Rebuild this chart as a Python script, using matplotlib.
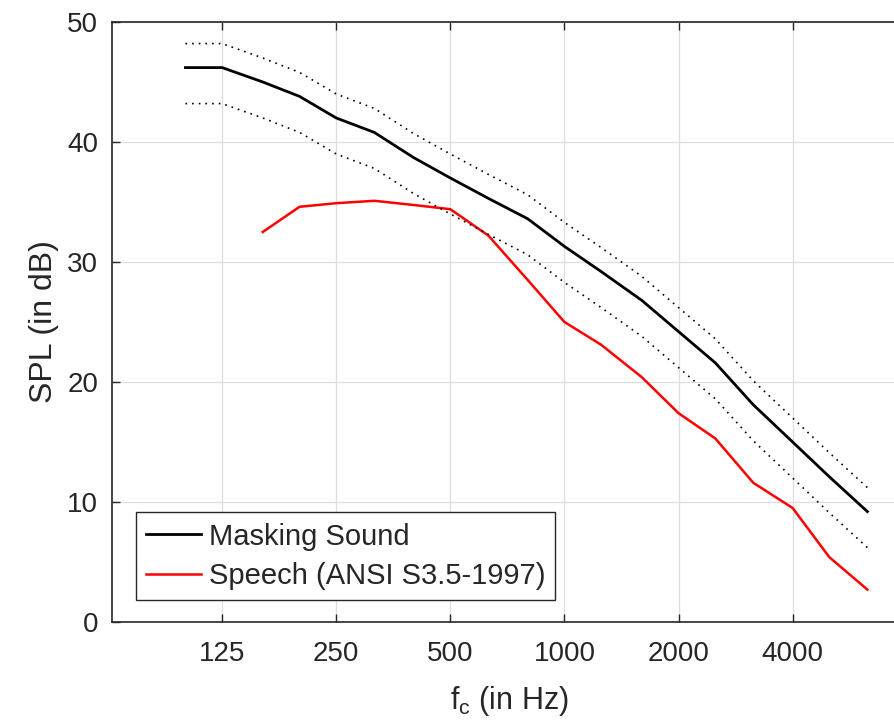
import numpy as np
import matplotlib
matplotlib.use('Agg')
import matplotlib.pyplot as plt

plt.rcParams['font.family'] = ['Liberation Sans', 'DejaVu Sans']
plt.rcParams['mathtext.default'] = 'regular'

# third-octave centre frequencies
freq = [100, 125, 160, 200, 250, 315, 400, 500, 630, 800, 1000, 1250,
        1600, 2000, 2500, 3150, 4000, 5000, 6300]
masking = [46.2, 46.2, 45.0, 43.8, 42.0, 40.8, 38.7, 37.0, 35.3, 33.6, 31.3,
           29.2, 26.8, 24.2, 21.6, 18.1, 15.0, 12.1, 9.2]
mask_upper = [48.2, 48.2, 47.0, 45.8, 44.0, 42.8, 40.7, 39.0, 37.3, 35.6, 33.3,
              31.2, 28.8, 26.2, 23.6, 20.1, 17.0, 14.1, 11.2]
mask_lower = [43.2, 43.2, 42.0, 40.8, 39.0, 37.8, 35.7, 34.0, 32.3, 30.6, 28.3,
              26.2, 23.8, 21.2, 18.6, 15.1, 12.0, 9.1, 6.2]
freq_speech = [160, 200, 250, 315, 400, 500, 630, 800, 1000, 1250, 1600, 2000,
               2500, 3150, 4000, 5000, 6300]
speech = [32.5, 34.6, 34.9, 35.1, 34.75, 34.4, 32.2, 28.5, 25.0, 23.1, 20.4,
          17.4, 15.3, 11.6, 9.5, 5.4, 2.7]

xticks = [125, 250, 500, 1000, 2000, 4000]
yticks = [0, 10, 20, 30, 40, 50]

fig = plt.figure(figsize=(8.95, 7.28), dpi=100)
ax = fig.add_axes([0.1251, 0.1456, 0.888, 0.8242])

axc = '#262626'
ax.plot(freq, masking, color='black', lw=2.0, label='Masking Sound')
ax.plot(freq_speech, speech, color='red', lw=1.8, label='Speech (ANSI S3.5-1997)')
ax.plot(freq, mask_upper, color='black', lw=1.2, ls=(0, (1, 3)))
ax.plot(freq, mask_lower, color='black', lw=1.2, ls=(0, (1, 3)))

ax.set_xscale('log')
ax.set_xlim(64, 8000)
ax.set_ylim(0, 50)
ax.set_xticks(xticks)
ax.set_xticklabels([str(t) for t in xticks])
ax.minorticks_off()
ax.set_yticks(yticks)
ax.grid(True, color='#dedede', lw=0.9)
ax.set_axisbelow(True)
ax.tick_params(direction='in', length=6, width=1, color=axc, labelcolor=axc,
               labelsize=20, top=True, right=True)
ax.tick_params(axis='y', pad=10)
ax.tick_params(axis='x', pad=14)
for s in ax.spines.values():
    s.set_color(axc)
    s.set_linewidth(1.2)

ax.set_xlabel('f$_c$ (in Hz)', fontsize=22, color=axc, labelpad=12)
ax.set_ylabel('SPL (in dB)', fontsize=23, color=axc, labelpad=6)

leg = ax.legend(loc='lower left', bbox_to_anchor=(0.03, 0.036), fontsize=21,
                frameon=True, fancybox=False, edgecolor=axc, framealpha=1,
                handlelength=1.9, handletextpad=0.25, borderpad=0.35,
                labelspacing=0.4, borderaxespad=0)
leg.get_frame().set_linewidth(1.0)
for t in leg.get_texts():
    t.set_color(axc)

plt.savefig('out.png', dpi=100)
